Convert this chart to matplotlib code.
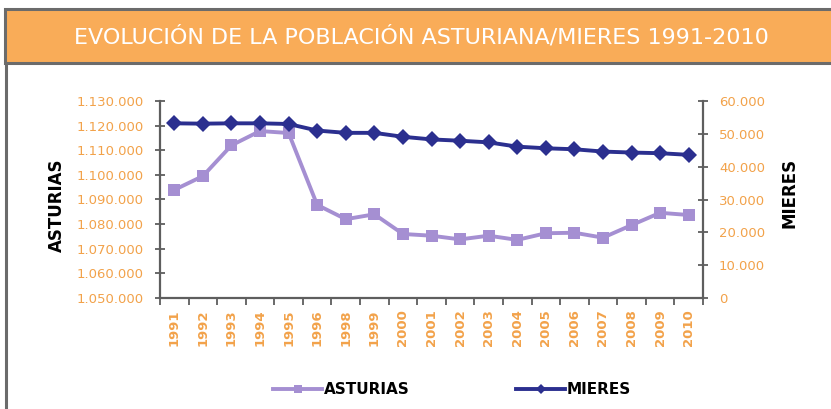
import matplotlib.pyplot as plt
from matplotlib.patches import Rectangle
from matplotlib.lines import Line2D
from matplotlib.ticker import FuncFormatter, FixedLocator, NullFormatter

# data
years = ["1991", "1992", "1993", "1994", "1995", "1996", "1998", "1999", "2000", "2001",
         "2002", "2003", "2004", "2005", "2006", "2007", "2008", "2009", "2010"]
asturias = [1093900, 1099500, 1112000, 1117800, 1117000, 1087800, 1082000, 1084000, 1076000,
            1075300, 1073800, 1075300, 1073600, 1076300, 1076500, 1074500, 1079600, 1084600, 1083700]
mieres = [53200, 53100, 53200, 53200, 53000, 51000, 50300, 50300, 49100, 48300,
          47900, 47400, 46100, 45600, 45300, 44600, 44300, 44100, 43600]

ORANGE = "#F9AC58"
TICK_ORANGE = "#F2A24A"
BORDER = "#6B6B6B"
AST_COLOR = "#A58FD2"
MIE_COLOR = "#2B2F8F"
AXIS_COLOR = "#5E5E5E"

W, H = 831, 409
fig = plt.figure(figsize=(W / 100, H / 100), dpi=100)
fig.patch.set_facecolor("white")

# header band and frame
fig.patches.append(Rectangle((5 / W, 1 - 63 / H), 1, 54 / H, transform=fig.transFigure,
                             facecolor=ORANGE, edgecolor=BORDER, linewidth=2.2, zorder=0))
fig.add_artist(Line2D([6 / W, 6 / W], [0, 1 - 63 / H], transform=fig.transFigure,
                      color=BORDER, linewidth=2.2))
fig.text(421 / W, 1 - 37 / H, "EVOLUCIÓN DE LA POBLACIÓN ASTURIANA/MIERES 1991-2010",
         color="white", fontsize=16, ha="center", va="center")

ax = fig.add_axes([160 / W, 1 - 298 / H, 543 / W, 197 / H])
ax2 = ax.twinx()

x = list(range(len(years)))
ax.plot(x, asturias, color=AST_COLOR, linewidth=2.8, marker="s", markersize=9,
        markeredgewidth=0, label="ASTURIAS")
ax2.plot(x, mieres, color=MIE_COLOR, linewidth=2.8, marker="D", markersize=8,
         markeredgewidth=0, label="MIERES")

ax.set_xlim(-0.5, len(years) - 0.5)
ax.set_ylim(1050000, 1130000)
ax2.set_ylim(0, 60000)
ax.set_yticks(range(1050000, 1130001, 10000))
ax2.set_yticks(range(0, 60001, 10000))

fmt = FuncFormatter(lambda v, p: f"{int(v):,}".replace(",", "."))
ax.yaxis.set_major_formatter(fmt)
ax2.yaxis.set_major_formatter(fmt)

ax.set_xticks(x)
ax.set_xticklabels(years, rotation=90, color=TICK_ORANGE, fontsize=9.5, fontweight="bold")
ax.tick_params(axis="x", which="major", length=0, pad=8)
ax.xaxis.set_minor_locator(FixedLocator([i - 0.5 for i in range(len(years) + 1)]))
ax.xaxis.set_minor_formatter(NullFormatter())
ax.tick_params(axis="x", which="minor", length=5, width=1.3, color=AXIS_COLOR, direction="out")

ax.tick_params(axis="y", length=7, width=1.3, color=AXIS_COLOR, direction="inout",
               labelcolor=TICK_ORANGE, labelsize=9.5, pad=8)
ax2.tick_params(axis="y", length=7, width=1.3, color=AXIS_COLOR, direction="inout",
                labelcolor=TICK_ORANGE, labelsize=9.5, pad=8)

for a in (ax, ax2):
    a.spines["top"].set_visible(False)
    for s in ("left", "right", "bottom"):
        a.spines[s].set_color(AXIS_COLOR)
        a.spines[s].set_linewidth(1.6)
ax.spines["right"].set_visible(False)
ax2.spines["left"].set_visible(False)
ax2.spines["bottom"].set_visible(False)

fig.text(57 / W, 1 - 205 / H, "ASTURIAS", rotation=90, fontsize=12, fontweight="bold",
         ha="center", va="center")
fig.text(790 / W, 1 - 193 / H, "MIERES", rotation=90, fontsize=12, fontweight="bold",
         ha="center", va="center")

handles = [ax.get_lines()[0], ax2.get_lines()[0]]
leg = fig.legend(handles, ["ASTURIAS", "MIERES"], loc="center", bbox_to_anchor=(452 / W, 1 - 390 / H),
                 ncol=2, frameon=False, handlelength=3.2, handletextpad=0.1, columnspacing=7,
                 prop={"weight": "bold", "size": 11}, markerscale=0.7)

fig.savefig("out.png", dpi=100)
